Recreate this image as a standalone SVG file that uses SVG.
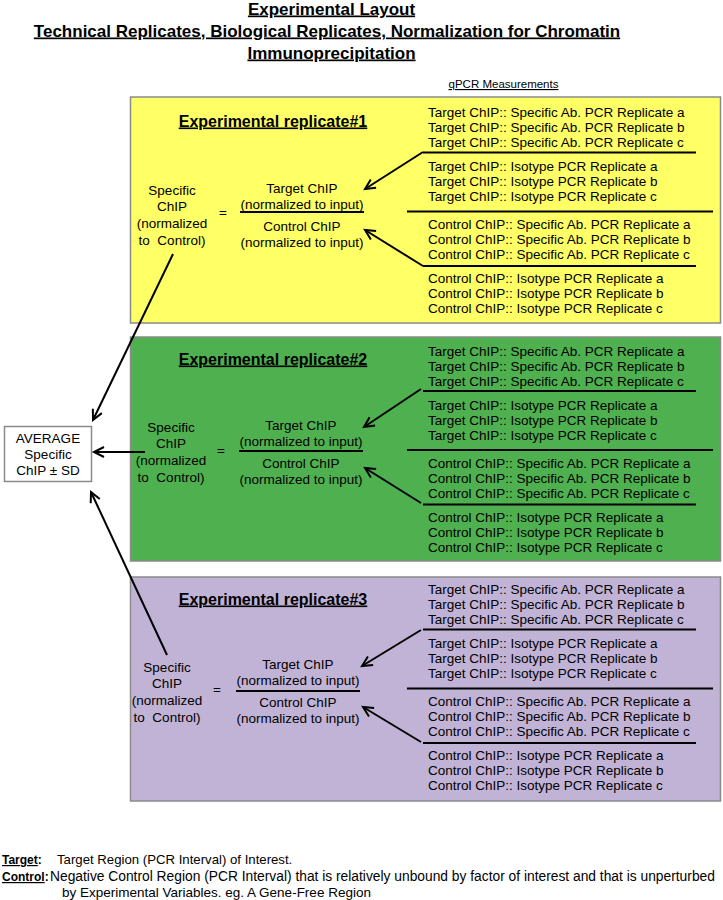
<svg xmlns="http://www.w3.org/2000/svg" width="723" height="900" viewBox="0 0 723 900">
<defs>
<style>
text{font-family:"Liberation Sans",Arial,sans-serif;fill:#000}
.t{font-size:17px;font-weight:bold;text-decoration:underline;text-anchor:middle}
.h{font-size:16px;font-weight:bold;text-decoration:underline;text-anchor:middle}
.m{font-size:13.5px}
.c{font-size:13.5px;text-anchor:middle}
.q{font-size:11.5px;text-anchor:middle;text-decoration:underline}
.l{font-size:13.5px}
.b{font-size:12px;font-weight:bold}
.u{text-decoration:underline}
.box{stroke:#8a8a8a;stroke-width:1.5}
.sep{stroke:#000;stroke-width:2}
.ar{stroke:#000;stroke-width:2;fill:none;marker-end:url(#ah)}
</style>
<marker id="ah" markerUnits="userSpaceOnUse" markerWidth="14" markerHeight="14" refX="11" refY="6" orient="auto">
<path d="M1,1 L11,6 L1,11" fill="none" stroke="#000" stroke-width="2"/>
</marker>
</defs>
<rect width="723" height="900" fill="#fff"/>

<g id="title">
<text class="t" x="331.5" y="14.5">Experimental Layout</text>
<text class="t" x="327" y="36.5">Technical Replicates, Biological Replicates, Normalization for Chromatin</text>
<text class="t" x="331.5" y="58.5">Immunoprecipitation</text>
<text class="q" x="503.5" y="88">qPCR Measurements</text>
</g>

<g id="replicate1">
<rect class="box" x="130.5" y="97" width="590" height="226" fill="#ffff66"/>
<text class="h" x="273" y="126.5">Experimental replicate#1</text>
<text class="c" x="172" y="195">Specific</text>
<text class="c" x="172" y="211">ChIP</text>
<text class="c" x="172" y="228">(normalized</text>
<text class="c" x="172" y="245">to&#160; Control)</text>
<text class="c" x="223" y="217">=</text>
<text class="c" x="302" y="193">Target ChIP</text>
<text class="c" x="302" y="209">(normalized to input)</text>
<line class="sep" x1="240" y1="212" x2="364" y2="212"/>
<text class="c" x="302" y="231">Control ChIP</text>
<text class="c" x="302" y="247">(normalized to input)</text>
<g id="qpcr1">
<text class="m" x="428" y="117">Target ChIP:: Specific Ab. PCR Replicate a</text>
<text class="m" x="428" y="132">Target ChIP:: Specific Ab. PCR Replicate b</text>
<text class="m" x="428" y="147">Target ChIP:: Specific Ab. PCR Replicate c</text>
<line class="sep" x1="423" y1="152.5" x2="696" y2="152.5"/>
<text class="m" x="428" y="171">Target ChIP:: Isotype PCR Replicate a</text>
<text class="m" x="428" y="186">Target ChIP:: Isotype PCR Replicate b</text>
<text class="m" x="428" y="201">Target ChIP:: Isotype PCR Replicate c</text>
<line class="sep" x1="407" y1="211.5" x2="713" y2="211.5"/>
<text class="m" x="428" y="229">Control ChIP:: Specific Ab. PCR Replicate a</text>
<text class="m" x="428" y="244">Control ChIP:: Specific Ab. PCR Replicate b</text>
<text class="m" x="428" y="259">Control ChIP:: Specific Ab. PCR Replicate c</text>
<line class="sep" x1="423" y1="266" x2="696" y2="266"/>
<text class="m" x="428" y="283">Control ChIP:: Isotype PCR Replicate a</text>
<text class="m" x="428" y="298">Control ChIP:: Isotype PCR Replicate b</text>
<text class="m" x="428" y="313">Control ChIP:: Isotype PCR Replicate c</text>
</g>
</g>

<g id="replicate2">
<rect class="box" x="130.5" y="337" width="590" height="224" fill="#4fb04f"/>
<text class="h" x="273" y="364.5">Experimental replicate#2</text>
<text class="c" x="171" y="432">Specific</text>
<text class="c" x="171" y="448">ChIP</text>
<text class="c" x="171" y="465">(normalized</text>
<text class="c" x="171" y="482">to&#160; Control)</text>
<text class="c" x="221" y="455">=</text>
<text class="c" x="301" y="430">Target ChIP</text>
<text class="c" x="301" y="446">(normalized to input)</text>
<line class="sep" x1="239" y1="451" x2="363" y2="451"/>
<text class="c" x="301" y="468">Control ChIP</text>
<text class="c" x="301" y="484">(normalized to input)</text>
<g id="qpcr2" transform="translate(0,238.5)">
<text class="m" x="428" y="117">Target ChIP:: Specific Ab. PCR Replicate a</text>
<text class="m" x="428" y="132">Target ChIP:: Specific Ab. PCR Replicate b</text>
<text class="m" x="428" y="147">Target ChIP:: Specific Ab. PCR Replicate c</text>
<line class="sep" x1="423" y1="152.5" x2="696" y2="152.5"/>
<text class="m" x="428" y="171">Target ChIP:: Isotype PCR Replicate a</text>
<text class="m" x="428" y="186">Target ChIP:: Isotype PCR Replicate b</text>
<text class="m" x="428" y="201">Target ChIP:: Isotype PCR Replicate c</text>
<line class="sep" x1="407" y1="211.5" x2="713" y2="211.5"/>
<text class="m" x="428" y="229">Control ChIP:: Specific Ab. PCR Replicate a</text>
<text class="m" x="428" y="244">Control ChIP:: Specific Ab. PCR Replicate b</text>
<text class="m" x="428" y="259">Control ChIP:: Specific Ab. PCR Replicate c</text>
<line class="sep" x1="423" y1="266" x2="696" y2="266"/>
<text class="m" x="428" y="283">Control ChIP:: Isotype PCR Replicate a</text>
<text class="m" x="428" y="298">Control ChIP:: Isotype PCR Replicate b</text>
<text class="m" x="428" y="313">Control ChIP:: Isotype PCR Replicate c</text>
</g>
</g>

<g id="replicate3">
<rect class="box" x="130.5" y="577" width="590" height="224" fill="#c1b3d6"/>
<text class="h" x="273" y="604.5">Experimental replicate#3</text>
<text class="c" x="167" y="672">Specific</text>
<text class="c" x="167" y="688">ChIP</text>
<text class="c" x="167" y="705">(normalized</text>
<text class="c" x="167" y="722">to&#160; Control)</text>
<text class="c" x="217" y="694">=</text>
<text class="c" x="298" y="669">Target ChIP</text>
<text class="c" x="298" y="685">(normalized to input)</text>
<line class="sep" x1="236" y1="691" x2="360" y2="691"/>
<text class="c" x="298" y="707">Control ChIP</text>
<text class="c" x="298" y="723">(normalized to input)</text>
<g id="qpcr3" transform="translate(0,477)">
<text class="m" x="428" y="117">Target ChIP:: Specific Ab. PCR Replicate a</text>
<text class="m" x="428" y="132">Target ChIP:: Specific Ab. PCR Replicate b</text>
<text class="m" x="428" y="147">Target ChIP:: Specific Ab. PCR Replicate c</text>
<line class="sep" x1="423" y1="152.5" x2="696" y2="152.5"/>
<text class="m" x="428" y="171">Target ChIP:: Isotype PCR Replicate a</text>
<text class="m" x="428" y="186">Target ChIP:: Isotype PCR Replicate b</text>
<text class="m" x="428" y="201">Target ChIP:: Isotype PCR Replicate c</text>
<line class="sep" x1="407" y1="211.5" x2="713" y2="211.5"/>
<text class="m" x="428" y="229">Control ChIP:: Specific Ab. PCR Replicate a</text>
<text class="m" x="428" y="244">Control ChIP:: Specific Ab. PCR Replicate b</text>
<text class="m" x="428" y="259">Control ChIP:: Specific Ab. PCR Replicate c</text>
<line class="sep" x1="423" y1="266" x2="696" y2="266"/>
<text class="m" x="428" y="283">Control ChIP:: Isotype PCR Replicate a</text>
<text class="m" x="428" y="298">Control ChIP:: Isotype PCR Replicate b</text>
<text class="m" x="428" y="313">Control ChIP:: Isotype PCR Replicate c</text>
</g>
</g>

<g id="average">
<rect class="box" x="4.5" y="426.5" width="87" height="55" fill="#fff"/>
<text class="c" x="48" y="443">AVERAGE</text>
<text class="c" x="48" y="459">Specific</text>
<text class="c" x="48" y="475">ChIP ± SD</text>
</g>

<g id="connectors">
<line class="ar" x1="423" y1="152" x2="365" y2="189"/>
<line class="ar" x1="423" y1="266" x2="365" y2="230"/>
<line class="ar" x1="421" y1="389" x2="364" y2="427"/>
<line class="ar" x1="421" y1="503" x2="365" y2="468"/>
<line class="ar" x1="421" y1="630" x2="362" y2="666"/>
<line class="ar" x1="421" y1="742" x2="363" y2="707"/>
<line class="ar" x1="173" y1="254" x2="93" y2="420"/>
<line class="ar" x1="145" y1="452" x2="94" y2="452"/>
<line class="ar" x1="167" y1="655" x2="91" y2="492"/>
</g>

<g id="legend">
<text class="b" x="2" y="864"><tspan class="u">Target</tspan>:</text>
<text class="l" x="57" y="864" style="font-size:13.2px">Target Region (PCR Interval) of Interest.</text>
<text class="b" x="2" y="881"><tspan class="u">Control</tspan>:</text>
<text class="l" x="50" y="881" style="font-size:13.8px">Negative Control Region (PCR Interval) that is relatively unbound by factor of interest and that is unperturbed</text>
<text class="l" x="62" y="897">by Experimental Variables. eg. A Gene-Free Region</text>
</g>
</svg>
